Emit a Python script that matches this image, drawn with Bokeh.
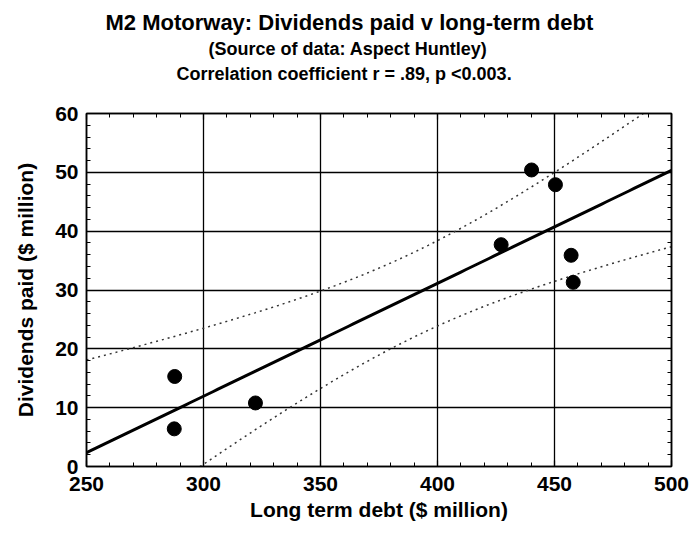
import numpy as np
from bokeh.plotting import figure
from bokeh.models import Range1d, SingleIntervalTicker, LinearAxis, Title
from bokeh.embed import file_html
from bokeh.resources import INLINE

# ---- data ----
debt = [287.7, 287.5, 322.2, 427.2, 440.2, 450.4, 457.1, 458.0]      # $ million
dividends = [15.3, 6.4, 10.8, 37.7, 50.4, 47.9, 35.9, 31.3]          # $ million
title_lines = [
    "M2 Motorway: Dividends paid v long-term debt",
    "(Source of data: Aspect Huntley)",
    "Correlation coefficient r = .89, p <0.003.",
]
x_label = "Long term debt ($ million)"
y_label = "Dividends paid ($ million)"
x_limits = (250, 500)
y_limits = (0, 60)
T_CRIT = 2.447  # Student t, 97.5 %, df = n - 2 = 6

# ---- least-squares fit and 95 % confidence band of the mean ----
x = np.array(debt)
y = np.array(dividends)
n = len(x)
slope, intercept = np.polyfit(x, y, 1)
xs = np.linspace(x_limits[0], x_limits[1], 126)
fit = intercept + slope * xs
resid = y - (intercept + slope * x)
s = np.sqrt(np.sum(resid ** 2) / (n - 2))
sxx = np.sum((x - x.mean()) ** 2)
half = T_CRIT * s * np.sqrt(1.0 / n + (xs - x.mean()) ** 2 / sxx)

FONT = "Liberation Sans"

p = figure(
    frame_width=585, frame_height=353,
    x_range=Range1d(*x_limits), y_range=Range1d(*y_limits),
    output_backend="svg", toolbar_location=None,
    min_border_left=86, min_border_right=21, min_border_top=113, min_border_bottom=68,
    background_fill_color="white", border_fill_color="white",
)

bottom_ax = p.below[0]
left_ax = p.left[0]

xt = SingleIntervalTicker(interval=50, num_minor_ticks=5)
yt = SingleIntervalTicker(interval=10, num_minor_ticks=5)

bottom_ax.ticker = xt
left_ax.ticker = yt
p.xgrid.ticker = xt
p.ygrid.ticker = yt
p.grid.grid_line_color = "black"
p.grid.grid_line_width = 1.3
p.grid.grid_line_alpha = 1.0

p.outline_line_color = "black"
p.outline_line_width = 1.5

top_ax = LinearAxis(ticker=xt)
right_ax = LinearAxis(ticker=yt)
p.add_layout(top_ax, "above")
p.add_layout(right_ax, "right")

for ax in [bottom_ax, left_ax, top_ax, right_ax]:
    ax.axis_line_color = "black"
    ax.axis_line_width = 1.5
    ax.major_tick_in = 6
    ax.major_tick_out = 0
    ax.minor_tick_in = 4
    ax.minor_tick_out = 0
    ax.major_tick_line_color = "black"
    ax.minor_tick_line_color = "black"
    ax.major_tick_line_width = 1.2
    ax.minor_tick_line_width = 1
    ax.major_label_text_font = FONT
    ax.major_label_text_font_style = "bold"
    ax.major_label_text_font_size = "21px"
    ax.major_label_text_color = "black"

for ax in [top_ax, right_ax]:
    ax.major_label_text_color = None
    ax.major_label_text_font_size = "1px"
    ax.major_label_standoff = 0

bottom_ax.axis_label = x_label
left_ax.axis_label = y_label
for ax in [bottom_ax, left_ax]:
    ax.axis_label_text_font = FONT
    ax.axis_label_text_font_style = "bold"
    ax.axis_label_text_font_size = "21px"
    ax.axis_label_text_color = "black"
bottom_ax.major_label_standoff = 10
bottom_ax.axis_label_standoff = 4
left_ax.major_label_standoff = 8
left_ax.axis_label_standoff = 15

# confidence band
p.line(xs, fit + half, line_color="#333333", line_width=1.5, line_dash="2 4")
p.line(xs, fit - half, line_color="#333333", line_width=1.5, line_dash="2 4")
# regression line
p.line(xs, fit, line_color="black", line_width=3)
# data points
p.scatter(debt, dividends, size=14, color="black")

# three title lines, added bottom-up (later additions sit further from the plot);
# the last line carries a trailing line break that leaves the gap above the plot
title_texts = [title_lines[0], title_lines[1], title_lines[2] + "\n"]
title_sizes = ["22px", "18px", "18px"]
title_offsets = [19, 122, 90]
title_standoffs = [0, 5, 0]
title_line_heights = [1.2, 1.2, 1.5]
for txt, fs, off, so, lh in reversed(list(zip(title_texts, title_sizes, title_offsets,
                                              title_standoffs, title_line_heights))):
    p.add_layout(Title(text=txt, align="left", offset=off, standoff=so,
                       text_line_height=lh,
                       text_font=FONT, text_font_style="bold",
                       text_font_size=fs, text_color="black"), "above")

open("out.html", "w").write(file_html(p, INLINE))
